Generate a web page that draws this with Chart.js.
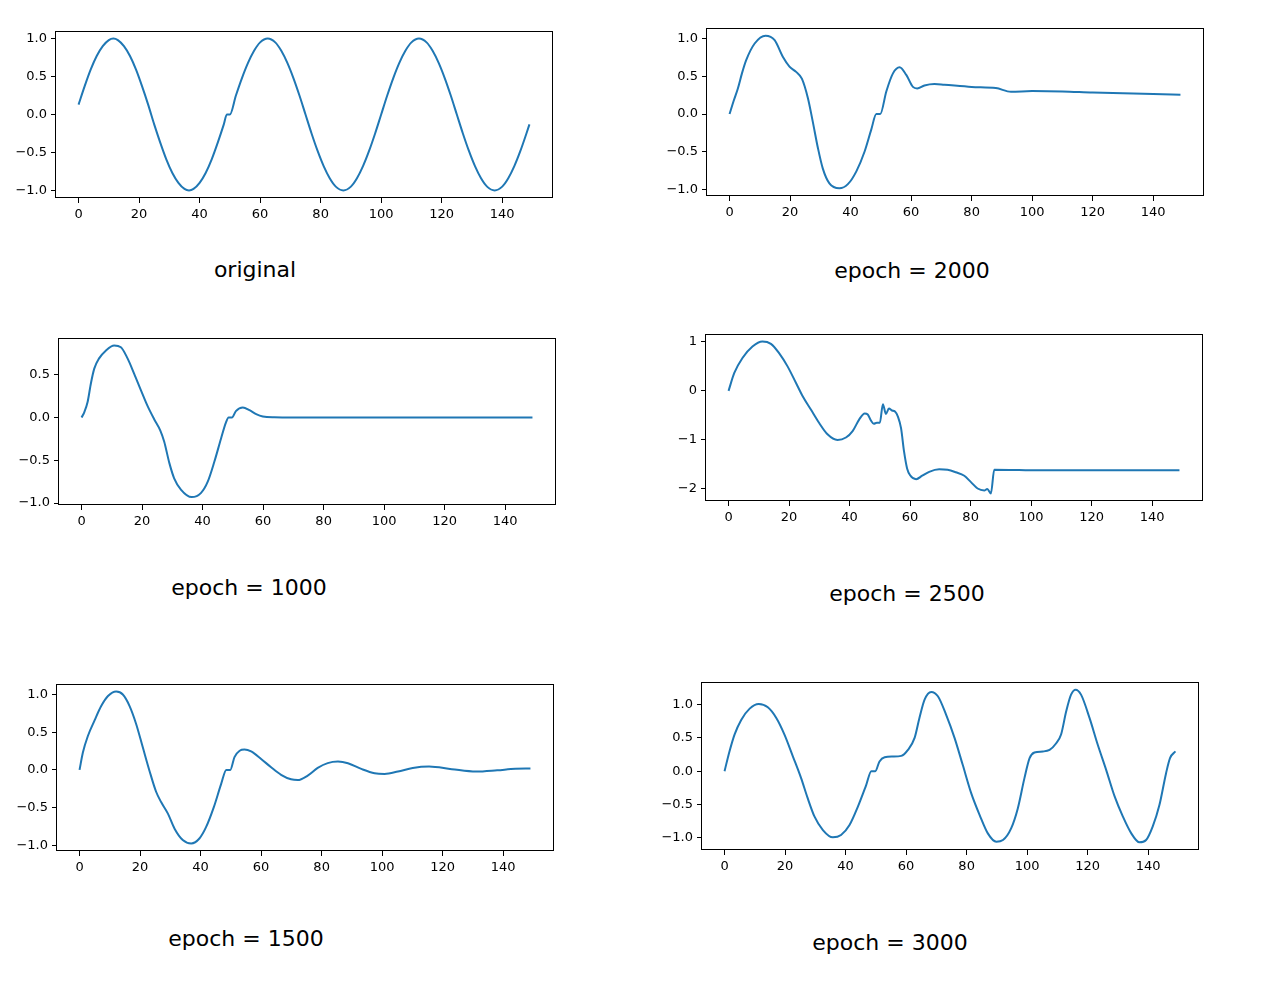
<!DOCTYPE html>
<html>
<head>
<meta charset="utf-8">
<script src="https://cdn.jsdelivr.net/npm/chart.js@4.4.0/dist/chart.umd.min.js"></script>
<style>
  body { margin: 0; background: #fff; width: 1270px; height: 986px; position: relative; overflow: hidden; font-family: "DejaVu Sans", sans-serif; }
  .box { position: absolute; }
  .cap { position: absolute; font-size: 22px; color: #000; transform: translate(-50%, -50%); white-space: nowrap; }
</style>
</head>
<body>
<script>
// shared tick labels
const xTicks = [0, 20, 40, 60, 80, 100, 120, 140];
const xLabels = ["0", "20", "40", "60", "80", "100", "120", "140"];
const yTicksA = [-1, -0.5, 0, 0.5, 1];
const yLabelsA = ["\u22121.0", "\u22120.5", "0.0", "0.5", "1.0"];
const yTicksB = [-1, -0.5, 0, 0.5];
const yLabelsB = ["\u22121.0", "\u22120.5", "0.0", "0.5"];
const yTicksC = [-2, -1, 0, 1];
const yLabelsC = ["\u22122", "\u22121", "0", "1"];

// original
const x1 = [0,2,4,6,8,10,11.5,13,15,17,19,21,23,25,27,29,31,33,35,36.5,38,40,42,44,46,48,49,50,52,54,56,58,60,62.5,65,67,69,71,73,75,77,79,81,83,85,87.5,90,92,94,96,98,100,102,104,106,108,110,112.5,115,117,119,121,123,125,127,129,131,133,135,137.5,140,142,144,146,148,149];
const y1 = [0.13,0.37,0.59,0.77,0.9,0.98,1.0,0.98,0.9,0.77,0.59,0.37,0.13,-0.13,-0.37,-0.59,-0.77,-0.9,-0.98,-1.0,-0.98,-0.9,-0.77,-0.59,-0.37,-0.13,0,0,0.25,0.48,0.68,0.84,0.95,1.0,0.95,0.84,0.68,0.48,0.25,0,-0.25,-0.48,-0.68,-0.84,-0.95,-1.0,-0.95,-0.84,-0.68,-0.48,-0.25,0,0.25,0.48,0.68,0.84,0.95,1.0,0.95,0.84,0.68,0.48,0.25,0,-0.25,-0.48,-0.68,-0.84,-0.95,-1.0,-0.95,-0.84,-0.68,-0.48,-0.25,-0.13];

// epoch = 2000
const x2 = [0,1.4,2.75,4.1,5.5,8.3,11.9,14.9,17.6,19.8,22,23.9,25.9,27.5,29.2,30.8,33,36.3,39.1,41.9,44.6,46.8,48.5,49.8,51.8,54,56.2,58.4,60.6,62,64.4,67.7,71,80,88,93,100,110,120,130,140,149];
const y2 = [0,0.18,0.34,0.54,0.715,0.936,1.04,0.98,0.76,0.63,0.56,0.47,0.21,-0.1,-0.45,-0.72,-0.92,-0.985,-0.93,-0.76,-0.5,-0.21,0,0,0.3,0.54,0.62,0.52,0.36,0.34,0.38,0.4,0.39,0.36,0.345,0.295,0.305,0.3,0.285,0.275,0.265,0.258];

// epoch = 1000
const x3 = [0,0.9,2,3.1,4.2,5.8,8,10.8,13,15.2,17.4,19.6,21.8,24,26,27.3,29,30.6,32.9,36.4,39.5,41.7,43.9,46.1,47.7,48.6,49.7,51,53.3,55.5,57.7,59.9,63.7,70,90,110,130,149];
const y3 = [0,0.06,0.18,0.4,0.57,0.69,0.78,0.84,0.82,0.69,0.51,0.32,0.135,-0.02,-0.15,-0.28,-0.53,-0.71,-0.845,-0.93,-0.88,-0.75,-0.515,-0.245,-0.06,0,0,0.074,0.116,0.085,0.04,0.012,0.002,0,0,0,0,0];

// epoch = 2500
const x4 = [0,1.9,4.6,7.9,11.2,14,16.7,19.5,22.3,24.5,27.2,29.9,32.7,36,38.8,41,43.2,45,46,47,48,49,50,51,52,53,54,55,56,57,58,59,60,62,64,66.3,69.6,72.4,75.1,77.9,80.1,82.3,84.5,85.5,86.7,87.8,96,110,130,149];
const y4 = [0,0.365,0.67,0.905,1.007,0.96,0.77,0.5,0.16,-0.11,-0.38,-0.65,-0.885,-1,-0.95,-0.82,-0.58,-0.46,-0.48,-0.6,-0.67,-0.65,-0.65,-0.27,-0.47,-0.36,-0.4,-0.42,-0.53,-0.76,-1.24,-1.58,-1.72,-1.8,-1.73,-1.65,-1.6,-1.61,-1.66,-1.73,-1.86,-1.99,-2.03,-2.0,-2.09,-1.61,-1.615,-1.62,-1.62,-1.62];

// epoch = 1500
const x5 = [0,1.1,2.75,5,7.2,9.4,12.1,14.3,16.5,18.7,20.9,23.1,25.3,27,29.2,31.4,34.1,36.9,39.6,41.8,44.4,46.8,48.5,49.8,51.2,52.9,54.5,56.7,60,63.3,66.6,69.9,72.1,75.4,78.7,82,85.4,88.7,93.1,97.5,100.8,105.2,110.1,115.5,123,131,138,144,149];
const y5 = [0,0.23,0.45,0.66,0.85,0.98,1.04,1.0,0.85,0.61,0.3,-0.01,-0.29,-0.43,-0.58,-0.78,-0.93,-0.975,-0.91,-0.76,-0.49,-0.185,0,0,0.17,0.255,0.27,0.245,0.145,0.035,-0.065,-0.125,-0.135,-0.075,0.026,0.09,0.11,0.088,0.013,-0.044,-0.053,-0.022,0.026,0.045,0.01,-0.022,-0.005,0.015,0.018];

// epoch = 3000
const x6 = [0,1.65,3.3,5.5,8.3,11.3,14.3,17.1,19.8,22.6,25.3,27.5,29.7,32.5,35.8,38.5,41.3,44.1,46.8,48.5,49.8,51.2,52.9,55.6,58.4,60.6,62.8,64.4,66.1,68.3,70.5,73.2,76,78.7,81.5,84.3,87,89.8,92,94.7,96.9,99.1,100.8,102.4,105.2,107.4,109.6,111.2,112.9,114.5,116,117.8,120.6,123.3,126.1,128.9,131.6,134.4,137.1,139.3,141.5,143.7,145.9,147.2,149];
const y6 = [0,0.3,0.55,0.77,0.94,1.01,0.96,0.8,0.55,0.22,-0.105,-0.41,-0.68,-0.885,-0.995,-0.96,-0.81,-0.53,-0.21,0,0,0.146,0.21,0.22,0.23,0.32,0.5,0.8,1.075,1.19,1.125,0.85,0.5,0.095,-0.33,-0.66,-0.935,-1.06,-1.035,-0.86,-0.56,-0.105,0.196,0.28,0.296,0.32,0.42,0.55,0.9,1.15,1.225,1.15,0.8,0.4,0.02,-0.38,-0.68,-0.935,-1.07,-1.035,-0.83,-0.51,-0.03,0.196,0.296];

const PAD_L = 60, PAD_T = 14, PAD_R = 10, PAD_B = 30;
const tickFont = { family: "DejaVu Sans", size: 13 };

// black box round the plot area, like matplotlib spines
const framePlugin = {
  id: "frame",
  afterDatasetsDraw(chart) {
    const a = chart.chartArea, ctx = chart.ctx;
    ctx.save();
    ctx.strokeStyle = "#000";
    ctx.lineWidth = 1;
    ctx.strokeRect(Math.round(a.left) - 0.5, Math.round(a.top) + 0.5,
                   Math.round(a.right - a.left) + 1, Math.round(a.bottom - a.top) - 1);
    ctx.restore();
  }
};

function makePlot(frame, xs, ys, yMin, yMax, yTicks, yLabels, caption, cap) {
  const w = frame.r - frame.l + PAD_L + PAD_R;
  const h = frame.b - frame.t + PAD_T + PAD_B;
  const div = document.createElement("div");
  div.className = "box";
  div.style.left = (frame.l - PAD_L) + "px";
  div.style.top = (frame.t - PAD_T) + "px";
  const cv = document.createElement("canvas");
  cv.width = w; cv.height = h;
  cv.style.width = w + "px"; cv.style.height = h + "px";
  div.appendChild(cv);
  document.body.appendChild(div);

  const t = document.createElement("div");
  t.className = "cap";
  t.style.left = cap[0] + "px";
  t.style.top = cap[1] + "px";
  t.textContent = caption;
  document.body.appendChild(t);

  new Chart(cv, {
    type: "line",
    data: {
      datasets: [{
        data: xs.map((x, i) => ({ x: x, y: ys[i] })),
        borderColor: "#1f77b4",
        borderWidth: 2,
        pointRadius: 0,
        cubicInterpolationMode: "monotone",
        fill: false
      }]
    },
    options: {
      responsive: false,
      animation: false,
      layout: { padding: { left: 0, top: PAD_T, right: PAD_R, bottom: 0 } },
      plugins: { legend: { display: false }, tooltip: { enabled: false } },
      scales: {
        x: {
          type: "linear", min: -7.45, max: 156.45,
          afterBuildTicks: s => { s.ticks = xTicks.map(v => ({ value: v })); },
          afterFit: s => { s.height = PAD_B; },
          ticks: { callback: (v, i) => xLabels[i], autoSkip: false, maxRotation: 0, padding: 4, color: "#000", font: tickFont },
          grid: { drawOnChartArea: false, drawTicks: true, tickLength: 5, color: "#000", lineWidth: 1 },
          border: { display: false }
        },
        y: {
          type: "linear", min: yMin, max: yMax,
          afterBuildTicks: s => { s.ticks = yTicks.map(v => ({ value: v })); },
          afterFit: s => { s.width = PAD_L; },
          ticks: { callback: (v, i) => yLabels[i], autoSkip: false, padding: 4, color: "#000", font: tickFont },
          grid: { drawOnChartArea: false, drawTicks: true, tickLength: 5, color: "#000", lineWidth: 1 },
          border: { display: false }
        }
      }
    },
    plugins: [framePlugin]
  });
}

makePlot({ l: 56, t: 31, r: 552, b: 198 }, x1, y1, -1.1, 1.1, yTicksA, yLabelsA, "original", [255, 269]);
makePlot({ l: 707, t: 28, r: 1203, b: 196 }, x2, y2, -1.087, 1.142, yTicksA, yLabelsA, "epoch = 2000", [912, 270]);
makePlot({ l: 59, t: 338, r: 555, b: 505 }, x3, y3, -1.022, 0.928, yTicksB, yLabelsB, "epoch = 1000", [249, 587]);
makePlot({ l: 706, t: 334, r: 1202, b: 501 }, x4, y4, -2.245, 1.16, yTicksC, yLabelsC, "epoch = 2500", [907, 593]);
makePlot({ l: 57, t: 684, r: 553, b: 851 }, x5, y5, -1.076, 1.14, yTicksA, yLabelsA, "epoch = 1500", [246, 938]);
makePlot({ l: 702, t: 682, r: 1198, b: 850 }, x6, y6, -1.185, 1.34, yTicksA, yLabelsA, "epoch = 3000", [890, 942]);
</script>
</body>
</html>
